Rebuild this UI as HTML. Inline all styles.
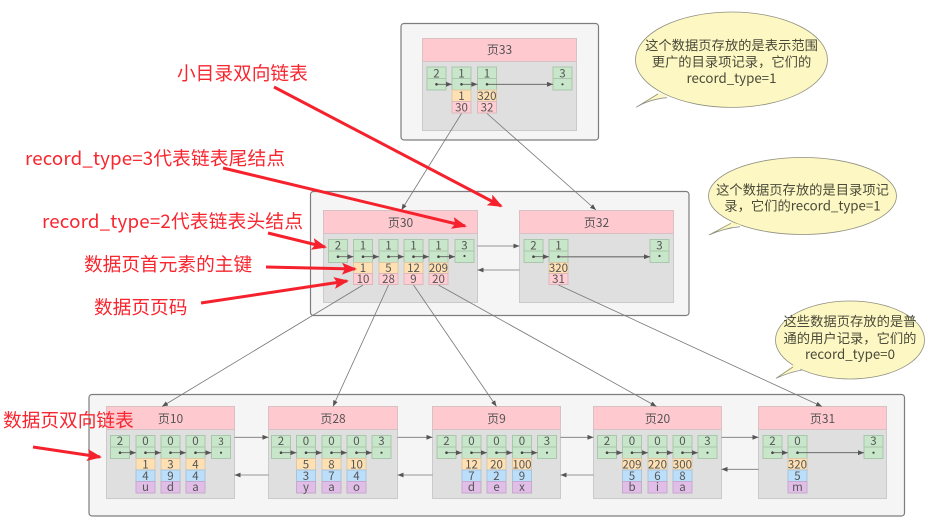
<!DOCTYPE html>
<html><head><meta charset="utf-8"><style>
html,body{margin:0;padding:0;background:#fff}
svg{display:block}
.box{fill:#f5f5f5;stroke:#7d7d7d;stroke-width:1.2}
.pb{fill:#dfdfdf;stroke:#cacaca}
.ph{fill:#ffc9d0;stroke:#d9c0c4}
.g{fill:#c8e6c9;stroke:#aac7ab}
.o{fill:#ffe0b2;stroke:#dcc8a8}
.p{fill:#ffcdd2;stroke:#dcb8bc}
.b{fill:#bbdefb;stroke:#a8c4dc}
.u{fill:#e1bee7;stroke:#c6aacb}
.l{stroke:#5c5c5c;stroke-width:.8;fill:none;marker-start:url(#d);marker-end:url(#a)}
.t{stroke:#777;stroke-width:.8;fill:none;marker-end:url(#a)}
.dot{fill:#444}
text{font-family:"Noto Sans CJK SC","Liberation Sans",sans-serif;text-anchor:middle;fill:#555}
.c text{font-size:11.5px}
.h{font-size:12px}
.s{font-size:13.3px;fill:#4a4a3a}
.r{font-size:18.7px;fill:#f8262f;text-anchor:start}
.ra{stroke:#f5222d;stroke-width:3;fill:none;marker-end:url(#ra)}
.bb{fill:#fdf8c3;stroke:#8f8f80;stroke-width:.8}
.bf{fill:#fdf8c3;stroke:none}
.be{fill:none;stroke:#8f8f80;stroke-width:.8}
</style></head><body>
<svg width="932" height="529" viewBox="0 0 932 529" xmlns="http://www.w3.org/2000/svg">
<defs>
<marker id="a" markerUnits="userSpaceOnUse" markerWidth="7" markerHeight="6" refX="6" refY="3" orient="auto"><path d="M0 .6L6 3L0 5.4z" fill="#555"/></marker>
<marker id="d" markerUnits="userSpaceOnUse" markerWidth="4" markerHeight="4" refX="2" refY="2"><circle cx="2" cy="2" r="1.3" fill="#444"/></marker>
<marker id="ra" markerUnits="userSpaceOnUse" markerWidth="20" markerHeight="14" refX="13" refY="6" orient="auto"><path d="M0 0L15 6L0 12L3 6z" fill="#f5222d"/></marker>
</defs>

<!-- containers -->
<rect class="box" x="401" y="23.5" width="197.5" height="116.5" rx="3"/>
<rect class="box" x="310.5" y="191.5" width="378.5" height="124" rx="3"/>
<rect class="box" x="89" y="394.5" width="815.5" height="121.5" rx="3"/>

<!-- pages -->
<rect class="pb" x="422.5" y="61.5" width="154" height="69"/><rect class="ph" x="422.5" y="38.5" width="154" height="23"/>
<rect class="pb" x="323.5" y="233.5" width="154" height="69"/><rect class="ph" x="323.5" y="210.5" width="154" height="23"/>
<rect class="pb" x="519.5" y="233.5" width="154" height="69"/><rect class="ph" x="519.5" y="210.5" width="154" height="23"/>
<rect class="pb" x="106.5" y="429.5" width="128" height="69"/><rect class="ph" x="106.5" y="406.5" width="128" height="23"/>
<rect class="pb" x="268.5" y="429.5" width="129" height="69"/><rect class="ph" x="268.5" y="406.5" width="129" height="23"/>
<rect class="pb" x="432.5" y="429.5" width="128" height="69"/><rect class="ph" x="432.5" y="406.5" width="128" height="23"/>
<rect class="pb" x="593.5" y="429.5" width="128" height="69"/><rect class="ph" x="593.5" y="406.5" width="128" height="23"/>
<rect class="pb" x="758.5" y="429.5" width="128" height="69"/><rect class="ph" x="758.5" y="406.5" width="128" height="23"/>

<text class="h" x="499.5" y="54">页33</text>
<text class="h" x="400.5" y="227">页30</text>
<text class="h" x="596.5" y="227">页32</text>
<text class="h" x="170.5" y="423">页10</text>
<text class="h" x="333" y="423">页28</text>
<text class="h" x="496.5" y="423">页9</text>
<text class="h" x="657.5" y="423">页20</text>
<text class="h" x="822.5" y="423">页31</text>

<!-- green cells -->
<path class="g" d="M427 67h19v23h-19zm0 11.5h19M452 67h19v23h-19zm0 11.5h19M477.5 67h19v23h-19zm0 11.5h19M553 67h19v23h-19zm0 11.5h19
M328.5 239.5h19v23h-19zm0 11.5h19M353.5 239.5h19v23h-19zm0 11.5h19M379 239.5h19v23h-19zm0 11.5h19M404 239.5h19v23h-19zm0 11.5h19M429 239.5h19v23h-19zm0 11.5h19M455 239.5h19v23h-19zm0 11.5h19
M524 239.5h19v23h-19zm0 11.5h19M549 239.5h19v23h-19zm0 11.5h19M650 239.5h19v23h-19zm0 11.5h19
M110.5 435.5h19v23h-19zm0 11.5h19M136 435.5h19v23h-19zm0 11.5h19M161 435.5h19v23h-19zm0 11.5h19M186 435.5h19v23h-19zm0 11.5h19M211.5 435.5h19v23h-19zm0 11.5h19
M271.5 435.5h19v23h-19zm0 11.5h19M296.5 435.5h19v23h-19zm0 11.5h19M322 435.5h19v23h-19zm0 11.5h19M347 435.5h19v23h-19zm0 11.5h19M372 435.5h19v23h-19zm0 11.5h19
M437 435.5h19v23h-19zm0 11.5h19M462 435.5h19v23h-19zm0 11.5h19M487 435.5h19v23h-19zm0 11.5h19M512.5 435.5h19v23h-19zm0 11.5h19M537.5 435.5h19v23h-19zm0 11.5h19
M597.5 435.5h19v23h-19zm0 11.5h19M622.5 435.5h19v23h-19zm0 11.5h19M648 435.5h19v23h-19zm0 11.5h19M673 435.5h19v23h-19zm0 11.5h19M698 435.5h19v23h-19zm0 11.5h19
M763 435.5h19v23h-19zm0 11.5h19M788 435.5h19v23h-19zm0 11.5h19M864 435.5h19v23h-19zm0 11.5h19"/>

<!-- orange -->
<path class="o" d="M452 90h19v11.5h-19zM477.5 90h19v11.5h-19z
M353.5 262.5h19v11h-19zM379 262.5h19v11h-19zM404 262.5h19v11h-19zM429 262.5h19v11h-19zM549 262.5h19v11h-19z
M136 458.5h19v11.5h-19zM161 458.5h19v11.5h-19zM186 458.5h19v11.5h-19z
M296.5 458.5h19v11.5h-19zM322 458.5h19v11.5h-19zM347 458.5h19v11.5h-19z
M462 458.5h19v11.5h-19zM487 458.5h19v11.5h-19zM512.5 458.5h19v11.5h-19z
M622.5 458.5h19v11.5h-19zM648 458.5h19v11.5h-19zM673 458.5h19v11.5h-19zM788 458.5h19v11.5h-19z"/>
<!-- pink -->
<path class="p" d="M452 101.5h19v11.5h-19zM477.5 101.5h19v11.5h-19z
M353.5 273.5h19v11h-19zM379 273.5h19v11h-19zM404 273.5h19v11h-19zM429 273.5h19v11h-19zM549 273.5h19v11h-19z"/>
<!-- blue -->
<path class="b" d="M136 470h19v11.5h-19zM161 470h19v11.5h-19zM186 470h19v11.5h-19z
M296.5 470h19v11.5h-19zM322 470h19v11.5h-19zM347 470h19v11.5h-19z
M462 470h19v11.5h-19zM487 470h19v11.5h-19zM512.5 470h19v11.5h-19z
M622.5 470h19v11.5h-19zM648 470h19v11.5h-19zM673 470h19v11.5h-19zM788 470h19v11.5h-19z"/>
<!-- purple -->
<path class="u" d="M136 481.5h19v11.5h-19zM161 481.5h19v11.5h-19zM186 481.5h19v11.5h-19z
M296.5 481.5h19v11.5h-19zM322 481.5h19v11.5h-19zM347 481.5h19v11.5h-19z
M462 481.5h19v11.5h-19zM487 481.5h19v11.5h-19zM512.5 481.5h19v11.5h-19z
M622.5 481.5h19v11.5h-19zM648 481.5h19v11.5h-19zM673 481.5h19v11.5h-19zM788 481.5h19v11.5h-19z"/>

<!-- cell text -->
<g class="c">
<text x="436.5" y="77.5">2</text><text x="461.5" y="77.5">1</text><text x="487" y="77.5">1</text><text x="562.5" y="77.5">3</text>
<text x="461.5" y="100">1</text><text x="487" y="100">320</text><text x="461.5" y="111.5">30</text><text x="487" y="111.5">32</text>

<text x="338" y="249.5">2</text><text x="363" y="249.5">1</text><text x="388.5" y="249.5">1</text><text x="413.5" y="249.5">1</text><text x="438.5" y="249.5">1</text><text x="464.5" y="249.5">3</text>
<text x="363" y="272">1</text><text x="388.5" y="272">5</text><text x="413.5" y="272">12</text><text x="438.5" y="272">209</text>
<text x="363" y="283">10</text><text x="388.5" y="283">28</text><text x="413.5" y="283">9</text><text x="438.5" y="283">20</text>
<text x="533.5" y="249.5">2</text><text x="558.5" y="249.5">1</text><text x="659.5" y="249.5">3</text>
<text x="558.5" y="272">320</text><text x="558.5" y="283">31</text>

<text x="120" y="445">2</text><text x="145.5" y="445">0</text><text x="170.5" y="445">0</text><text x="195.5" y="445">0</text><text x="221" y="445" style="font-size:10px">3</text>
<text x="145.5" y="468.5">1</text><text x="170.5" y="468.5">3</text><text x="195.5" y="468.5">4</text>
<text x="145.5" y="480">4</text><text x="170.5" y="480">9</text><text x="195.5" y="480">4</text>
<text x="145.5" y="491">u</text><text x="170.5" y="491">d</text><text x="195.5" y="491">a</text>

<text x="281" y="445">2</text><text x="306" y="445">0</text><text x="331.5" y="445">0</text><text x="356.5" y="445">0</text><text x="381.5" y="445">3</text>
<text x="306" y="468.5">5</text><text x="331.5" y="468.5">8</text><text x="356.5" y="468.5">10</text>
<text x="306" y="480">3</text><text x="331.5" y="480">7</text><text x="356.5" y="480">4</text>
<text x="306" y="491">y</text><text x="331.5" y="491">a</text><text x="356.5" y="491">o</text>

<text x="446.5" y="445">2</text><text x="471.5" y="445">0</text><text x="496.5" y="445">0</text><text x="522" y="445">0</text><text x="547" y="445">3</text>
<text x="471.5" y="468.5">12</text><text x="496.5" y="468.5">20</text><text x="522" y="468.5">100</text>
<text x="471.5" y="480">7</text><text x="496.5" y="480">2</text><text x="522" y="480">9</text>
<text x="471.5" y="491">d</text><text x="496.5" y="491">e</text><text x="522" y="491">x</text>

<text x="607" y="445">2</text><text x="632" y="445">0</text><text x="657.5" y="445">0</text><text x="682.5" y="445">0</text><text x="707.5" y="445">3</text>
<text x="632" y="468.5">209</text><text x="657.5" y="468.5">220</text><text x="682.5" y="468.5">300</text>
<text x="632" y="480">5</text><text x="657.5" y="480">6</text><text x="682.5" y="480">8</text>
<text x="632" y="491">b</text><text x="657.5" y="491">i</text><text x="682.5" y="491">a</text>

<text x="772.5" y="445">2</text><text x="797.5" y="445">0</text><text x="873.5" y="445">3</text>
<text x="797.5" y="468.5">320</text><text x="797.5" y="480">5</text><text x="797.5" y="491">m</text>
</g>

<!-- internal links -->
<line class="l" x1="436.5" y1="84.3" x2="452" y2="84.3"/><line class="l" x1="461.5" y1="84.3" x2="477.5" y2="84.3"/><line class="l" x1="487" y1="84.3" x2="553" y2="84.3"/>
<line class="l" x1="338" y1="256.7" x2="353.5" y2="256.7"/><line class="l" x1="363" y1="256.7" x2="379" y2="256.7"/><line class="l" x1="388.5" y1="256.7" x2="404" y2="256.7"/><line class="l" x1="413.5" y1="256.7" x2="429" y2="256.7"/><line class="l" x1="438.5" y1="256.7" x2="455" y2="256.7"/>
<line class="l" x1="533.5" y1="256.7" x2="549" y2="256.7"/><line class="l" x1="558.5" y1="256.7" x2="650" y2="256.7" style="stroke-width:1.5px;stroke:#888"/>
<line class="l" x1="120" y1="452.7" x2="136" y2="452.7"/><line class="l" x1="145.5" y1="452.7" x2="161" y2="452.7"/><line class="l" x1="170.5" y1="452.7" x2="186" y2="452.7"/><line class="l" x1="195.5" y1="452.7" x2="211.5" y2="452.7"/>
<line class="l" x1="281" y1="452.7" x2="296.5" y2="452.7"/><line class="l" x1="306" y1="452.7" x2="322" y2="452.7"/><line class="l" x1="331.5" y1="452.7" x2="347" y2="452.7"/><line class="l" x1="356.5" y1="452.7" x2="372" y2="452.7"/>
<line class="l" x1="446.5" y1="452.7" x2="462" y2="452.7"/><line class="l" x1="471.5" y1="452.7" x2="487" y2="452.7"/><line class="l" x1="496.5" y1="452.7" x2="512.5" y2="452.7"/><line class="l" x1="522" y1="452.7" x2="537.5" y2="452.7"/>
<line class="l" x1="607" y1="452.7" x2="622.5" y2="452.7"/><line class="l" x1="632" y1="452.7" x2="648" y2="452.7"/><line class="l" x1="657.5" y1="452.7" x2="673" y2="452.7"/><line class="l" x1="682.5" y1="452.7" x2="698" y2="452.7"/>
<line class="l" x1="772.5" y1="452.7" x2="788" y2="452.7"/><line class="l" x1="797.5" y1="452.7" x2="864" y2="452.7"/>
<circle class="dot" cx="562.5" cy="84.3" r="1.1"/><circle class="dot" cx="464.5" cy="256" r="1.1"/><circle class="dot" cx="659.5" cy="256" r="1.1"/><circle class="dot" cx="221" cy="452.7" r="1.1"/><circle class="dot" cx="381.5" cy="452.7" r="1.1"/><circle class="dot" cx="547" cy="452.7" r="1.1"/><circle class="dot" cx="707.5" cy="452.7" r="1.1"/><circle class="dot" cx="873.5" cy="452.7" r="1.1"/>

<!-- page-to-page links -->
<line class="t" x1="477.5" y1="246" x2="519.5" y2="246"/><line class="t" x1="519.5" y1="270" x2="477.5" y2="270"/>
<line class="t" x1="234.5" y1="437.3" x2="268.5" y2="437.3"/><line class="t" x1="397.5" y1="437.3" x2="432.5" y2="437.3"/><line class="t" x1="560.5" y1="437.3" x2="593.5" y2="437.3"/><line class="t" x1="721.5" y1="437.3" x2="758.5" y2="437.3"/>
<line class="t" x1="268.5" y1="475" x2="234.5" y2="475"/><line class="t" x1="432.5" y1="475" x2="397.5" y2="475"/><line class="t" x1="593.5" y1="475" x2="560.5" y2="475"/><line class="t" x1="758.5" y1="469.3" x2="721.5" y2="469.3"/>

<!-- tree links -->
<line class="t" x1="461.5" y1="113.5" x2="401.5" y2="210"/><line class="t" x1="487" y1="113.5" x2="596" y2="210"/>
<line class="t" x1="363" y1="285" x2="162" y2="406.5"/><line class="t" x1="388.5" y1="285" x2="333" y2="406.5"/><line class="t" x1="413.5" y1="285" x2="496.5" y2="406.5"/><line class="t" x1="438.5" y1="285" x2="656.5" y2="406.5"/><line class="t" x1="558.5" y1="285" x2="822" y2="406.5"/>

<!-- bubbles -->
<ellipse class="bb" cx="731.5" cy="59.7" rx="96" ry="47.7"/>
<path class="bf" d="M636 107.3L658 93L668 96Q650 100 636 107.3z"/>
<path class="be" d="M658 94L636 107.3Q650 99 667 97.7"/>
<ellipse class="bb" cx="802.5" cy="196" rx="94" ry="38.5"/>
<path class="bf" d="M709 235L731 222L741 225Q725 228 709 235z"/>
<path class="be" d="M731 223.3L709 235Q725 228 740 226.7"/>
<ellipse class="bb" cx="850" cy="340" rx="74.5" ry="39"/>
<path class="bf" d="M776 378.3L793 365L803 368Q790 372 776 378.3z"/>
<path class="be" d="M793 367L776 378.3Q790 372 802 370"/>
<text class="s" x="731.5" y="50">这个数据页存放的是表示范围</text>
<text class="s" x="731.5" y="66.5">更广的目录项记录，它们的</text>
<text class="s" x="731.5" y="83">record_type=1</text>
<text class="s" x="802.5" y="194.5">这个数据页存放的是目录项记</text>
<text class="s" x="802.5" y="210.5">录，它们的record_type=1</text>
<text class="s" x="850" y="326">这些数据页存放的是普</text>
<text class="s" x="850" y="343">通的用户记录，它们的</text>
<text class="s" x="850" y="359">record_type=0</text>

<!-- red annotations -->
<line class="ra" x1="274" y1="87" x2="501" y2="206"/>
<line class="ra" x1="223" y1="168" x2="465" y2="226"/>
<line class="ra" x1="268" y1="233" x2="325" y2="247"/>
<line class="ra" x1="266" y1="267" x2="355" y2="269"/>
<line class="ra" x1="201" y1="303" x2="347" y2="281"/>
<line class="ra" x1="33" y1="447" x2="100" y2="457"/>
<text class="r" x="177" y="80">小目录双向链表</text>
<text class="r" x="25" y="165" textLength="260">record_type=3代表链表尾结点</text>
<text class="r" x="42" y="228" textLength="261">record_type=2代表链表头结点</text>
<text class="r" x="84" y="271">数据页首元素的主键</text>
<text class="r" x="94" y="314">数据页页码</text>
<text class="r" x="3" y="427">数据页双向链表</text>
</svg>
</body></html>
